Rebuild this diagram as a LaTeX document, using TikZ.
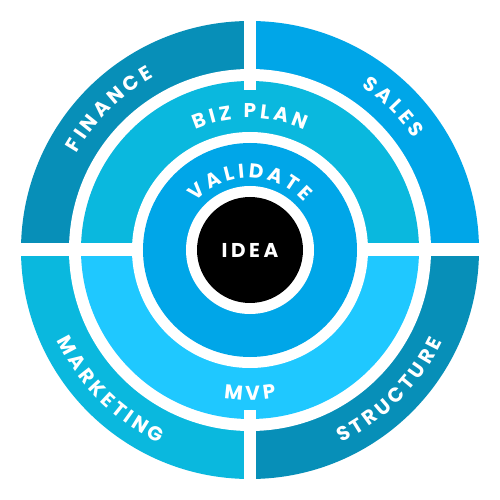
\documentclass[tikz,border=0pt]{standalone}
\usepackage{fontspec}
\usepackage{xcolor}
\usepackage{tikz}
\usetikzlibrary{decorations.text}

\newfontfamily\ringfamily{Poppins}[LetterSpace=18]
\newcommand\ringfont{\ringfamily\bfseries\fontsize{20}{24}\selectfont}
\newcommand\rc[1]{#1\kern3.6pt}

\definecolor{financeblue}{HTML}{078FB8}
\definecolor{salesblue}{HTML}{00A6E8}
\definecolor{marketblue}{HTML}{0AB8DE}
\definecolor{mvpblue}{HTML}{1FC8FF}

\tikzset{
  ringlabel/.style={decorate, decoration={text along path, text align=center,
      text color=white, text={|\ringfont|#1}}},
}

\begin{document}
\begin{tikzpicture}[x=1pt,y=1pt]
    \useasboundingbox (-250,-250) rectangle (250,250);
    \fill[white] (-250,-250) rectangle (250,250);

    % Outer ring
    \fill[salesblue] (0,0) -- (0:229) arc[start angle=0, end angle=90, radius=229] -- cycle;
    \fill[financeblue] (0,0) -- (90:229) arc[start angle=90, end angle=180, radius=229] -- cycle;
    \fill[marketblue] (0,0) -- (180:229) arc[start angle=180, end angle=270, radius=229] -- cycle;
    \fill[financeblue] (0,0) -- (270:229) arc[start angle=270, end angle=360, radius=229] -- cycle;
    \fill[white] (0,0) circle[radius=181];

    % Middle ring
    \fill[marketblue] (0:169) arc[start angle=0, end angle=180, radius=169] -- cycle;
    \fill[mvpblue] (180:169) arc[start angle=180, end angle=360, radius=169] -- cycle;
    \fill[white] (0,0) circle[radius=118];

    % Gaps
    \fill[white] (-6,160) rectangle (6,240);
    \fill[white] (-6,-160) rectangle (6,-240);
    \fill[white] (-240,-6) rectangle (240,6.5);

    % Centre
    \fill[salesblue] (0,0) circle[radius=107];
    \fill[white] (0,0) circle[radius=64];
    \node[circle, fill=black, minimum size=106pt, inner sep=0pt, text=white, font=\ringfont] (idea) at (0,0) {IDEA};

    % Labels
    \path[ringlabel={{\rc F}{\rc I}{\rc N}{\rc A}{\rc N}{\rc C}E}] (180:198) arc[start angle=180, end angle=90, radius=198];
    \path[ringlabel={{\rc S}{\rc A}{\rc L}{\rc E}S}] (90:198) arc[start angle=90, end angle=0, radius=198];
    \path[ringlabel={{\rc M}{\rc A}{\rc R}{\rc K}{\rc E}{\rc T}{\rc I}{\rc N}G}] (180:213) arc[start angle=180, end angle=270, radius=213];
    \path[ringlabel={{\rc S}{\rc T}{\rc R}{\rc U}{\rc C}{\rc T}{\rc U}{\rc R}E}] (270:213) arc[start angle=270, end angle=360, radius=213];
    \path[ringlabel={{\rc B}{\rc I}{\rc Z} {\rc P}{\rc L}{\rc A}N}] (180:132) arc[start angle=180, end angle=0, radius=132];
    \path[ringlabel={{\rc M}{\rc V}P}] (180:150) arc[start angle=180, end angle=360, radius=150];
    \path[ringlabel={{\rc V}{\rc A}{\rc L}{\rc I}{\rc D}{\rc A}{\rc T}E}] (180:72) arc[start angle=180, end angle=0, radius=72];
\end{tikzpicture}
\end{document}
